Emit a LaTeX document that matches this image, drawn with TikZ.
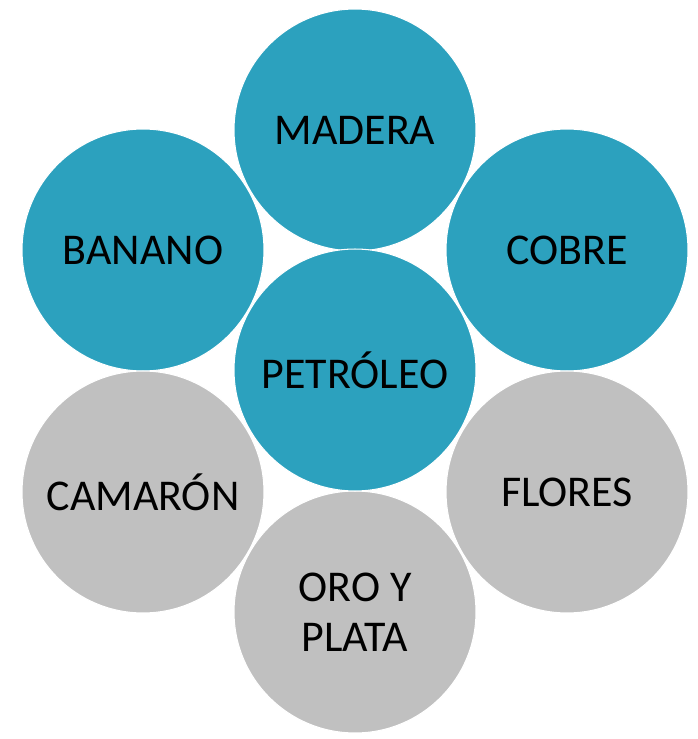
\documentclass[tikz,border=0pt]{standalone}
\usepackage{fontspec}
\setmainfont{Carlito}
\usetikzlibrary{positioning}

\definecolor{tealfill}{RGB}{44,161,190}
\definecolor{grayfill}{RGB}{192,192,192}

\tikzset{
	bubble/.style={circle, draw=white, line width=0.6pt, minimum size=4.84cm,
		inner sep=0pt, align=center, text=black,
		font=\fontsize{25}{28.5}\selectfont},
	tealbubble/.style={bubble, fill=tealfill},
	graybubble/.style={bubble, fill=grayfill}
}

\begin{document}
\begin{tikzpicture}[x=0.02cm,y=-0.02cm]
	% Marco
	% -----
	\useasboundingbox (0,0) rectangle (697,739);

	% circulos exteriores
	\node[tealbubble] (madera) at (355,130) {MADERA};
	\node[tealbubble] (banano) at (143,250) {BANANO};
	\node[tealbubble] (cobre) at (567,250) {COBRE};
	\node[graybubble] (camaron) at (143,492) {CAMARÓN};
	\node[graybubble] (flores) at (567,492) {FLORES};
	\node[graybubble] (oro) at (355,612) {ORO Y\\PLATA};

	% circulo central
	\node[tealbubble] (petroleo) at (355,370) {PETRÓLEO};

\end{tikzpicture}
\end{document}
